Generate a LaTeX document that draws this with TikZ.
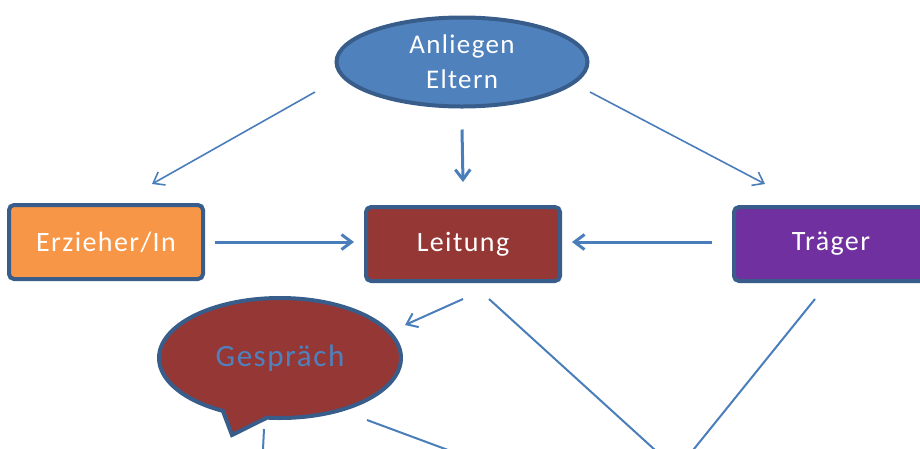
\documentclass[tikz,border=0pt]{standalone}
\usepackage{fontspec}
\setmainfont{Carlito}
\newfontfamily\boxfont[LetterSpace=5]{Carlito}
\usepackage{tikz}
\usetikzlibrary{arrows.meta,positioning,shapes.geometric,shapes.callouts}
\definecolor{rimblue}{HTML}{385D8A}
\definecolor{flowblue}{HTML}{4A7EBB}
\definecolor{ovalblue}{HTML}{4F81BD}
\definecolor{erzorange}{HTML}{F79646}
\definecolor{leitred}{HTML}{953735}
\definecolor{traegerpurple}{HTML}{7030A0}
\tikzset{
    rolebox/.style={rectangle, rounded corners=5pt, draw=rimblue, line width=4pt,
        minimum width=194pt, minimum height=74pt, text=white,
        font=\boxfont\fontsize{28}{34}\selectfont},
    oval/.style={ellipse, draw=rimblue, line width=4pt, fill=ovalblue,
        minimum width=251pt, minimum height=89pt, inner sep=0pt, align=center,
        text=white, font=\boxfont\fontsize{27}{35}\selectfont},
    bubble/.style={ellipse callout, draw=rimblue, line width=4pt, fill=leitred,
        minimum width=242pt, minimum height=120pt, callout pointer arc=22,
        text=ovalblue, font=\boxfont\fontsize{31}{36}\selectfont},
    flow/.style={-{Straight Barb[length=10pt,width=15pt]}, line width=1.6pt, draw=flowblue},
    flowbold/.style={flow, line width=3pt},
    link/.style={line width=2pt, draw=flowblue}
}

\begin{document}
\begin{tikzpicture}[x=1pt,y=-1pt]
        \useasboundingbox (0,0) rectangle (920,448);
        \path[clip] (0,0) rectangle (920,448);
        \node[oval] (anl) at (462,62) {Anliegen\\Eltern};
        \node[rolebox,fill=erzorange] (erz) at (106,242) {Erzieher/In};
        \node[rolebox,fill=leitred] (lei) at (463,244) {Leitung};
        \node[rolebox,fill=traegerpurple] (trae) at (831,244) {Träger};
        \node[bubble,callout absolute pointer={(232,435)}] (ges) at (280,358) {Gespräch};
        \coordinate (meet) at (677,470);
        \coordinate (gesdown) at (262,470);
        \coordinate (gesright) at (502,470);
        \draw[flow] ([shift={(-147,30)}]anl.center) -- ([shift={(46,-19)}]erz.north);
        \draw[flowbold] ([shift={(0,21)}]anl.south) -- ([shift={(0,-23)}]lei.north);
        \draw[flow] ([shift={(128,30)}]anl.center) -- ([shift={(-66,-21)}]trae.north);
        \draw[flowbold] ([shift={(10,0)}]erz.east) -- ([shift={(-10,-2)}]lei.west);
        \draw[flowbold] ([shift={(-20,-2)}]trae.west) -- ([shift={(10,-2)}]lei.east);
        \draw[flow,line width=2pt] ([shift={(0,16)}]lei.south) -- ([shift={(125,-33)}]ges.center);
        \draw[link] ([shift={(26,16)}]lei.south) -- (meet);
        \draw[link] ([shift={(-16,16)}]trae.south) -- (meet);
        \draw[link] ([shift={(-16,71)}]ges.center) -- (gesdown);
        \draw[link] ([shift={(87,62)}]ges.center) -- (gesright);
    \end{tikzpicture}
\end{document}
